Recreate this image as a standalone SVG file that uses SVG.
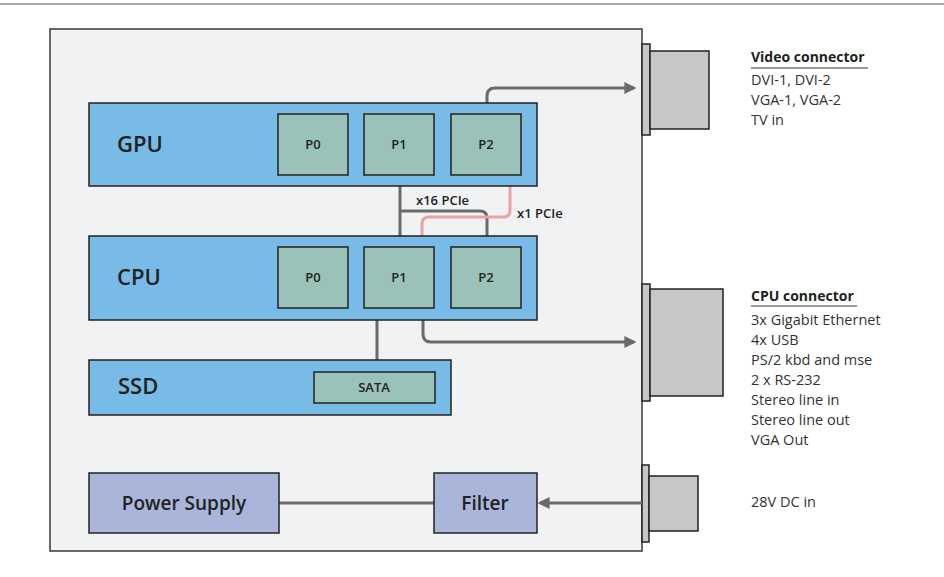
<svg xmlns="http://www.w3.org/2000/svg" width="944" height="577" viewBox="0 0 944 577">
<defs>
<style>
.frame{fill:#f1f2f4;stroke:#3a3a3a;stroke-width:1.5}
.blue{fill:#77bbe6;stroke:#222;stroke-width:1.5}
.port{fill:#9bc2b8;stroke:#222;stroke-width:1.5}
.pwr{fill:#a9b6da;stroke:#222;stroke-width:1.5}
.conn{fill:#c6c7c9;stroke:#222;stroke-width:1.5}
.big{font-family:"Open Sans","Noto Sans",sans-serif;font-size:22px;font-weight:600;fill:#222}
.mid{font-family:"Open Sans","Noto Sans",sans-serif;font-size:19px;font-weight:600;fill:#222}
.small{font-family:"Open Sans","Noto Sans",sans-serif;font-size:13px;font-weight:600;fill:#222;text-anchor:middle}
.lbl{font-family:"Open Sans","Noto Sans",sans-serif;font-size:13px;font-weight:600;fill:#222}
.hd{font-family:"Open Sans","Noto Sans",sans-serif;font-size:14px;font-weight:700;fill:#222}
.txt{font-family:"Open Sans","Noto Sans",sans-serif;font-size:14.5px;fill:#333}
.wire{fill:none;stroke:#6a6a6a;stroke-width:3}
.pink{fill:none;stroke:#e8a3a3;stroke-width:3}
</style>
<marker id="ah" viewBox="0 0 10 10" refX="8" refY="5" markerWidth="4" markerHeight="4" orient="auto-start-reverse">
<path d="M0,0 L10,5 L0,10 z" fill="#6a6a6a"/>
</marker>
</defs>
<rect width="944" height="577" fill="#ffffff"/>
<line x1="0" y1="4" x2="944" y2="4" stroke="#555" stroke-width="1.2"/>
<g id="frame"><rect class="frame" x="50" y="29" width="592" height="522"/></g>

<g id="video-connector">
<rect class="conn" x="642" y="44" width="8" height="91"/>
<rect class="conn" x="650" y="51" width="59" height="78"/>
</g>
<g id="cpu-connector">
<rect class="conn" x="642" y="284" width="8" height="117"/>
<rect class="conn" x="650" y="289" width="73" height="107"/>
</g>
<g id="power-connector">
<rect class="conn" x="642" y="465" width="7" height="77"/>
<rect class="conn" x="649" y="476" width="49" height="55"/>
</g>

<g id="connectors">
<path class="wire" d="M400,175 V247"/>
<path class="wire" d="M400,211 H480 Q487,211 487,218 V247"/>
<path class="pink" d="M510,175 V210 Q510,217 503,217 H429 Q422,217 422,224 V247"/>
<path class="wire" d="M487,114 V96 Q487,88 495,88 H634" marker-end="url(#ah)"/>
<path class="wire" d="M423,308 V334 Q423,342 431,342 H634" marker-end="url(#ah)"/>
<path class="wire" d="M377,308 V372"/>
<path class="wire" d="M279,503 H434"/>
<path class="wire" d="M642,503 H540" marker-end="url(#ah)"/>
</g>

<g id="gpu">
<rect class="blue" x="89" y="103" width="448" height="83"/>
<text class="big" x="117" y="152">GPU</text>
</g>
<g id="gpu-p0"><rect class="port" x="278" y="114" width="70" height="61"/><text class="small" x="313" y="149">P0</text></g>
<g id="gpu-p1"><rect class="port" x="364" y="114" width="70" height="61"/><text class="small" x="399" y="149">P1</text></g>
<g id="gpu-p2"><rect class="port" x="451" y="114" width="70" height="61"/><text class="small" x="486" y="149">P2</text></g>

<g id="cpu">
<rect class="blue" x="89" y="236" width="448" height="84"/>
<text class="big" x="117" y="285">CPU</text>
</g>
<g id="cpu-p0"><rect class="port" x="278" y="247" width="70" height="61"/><text class="small" x="313" y="282">P0</text></g>
<g id="cpu-p1"><rect class="port" x="364" y="247" width="70" height="61"/><text class="small" x="399" y="282">P1</text></g>
<g id="cpu-p2"><rect class="port" x="451" y="247" width="70" height="61"/><text class="small" x="486" y="282">P2</text></g>

<text class="lbl" x="416" y="205">x16 PCIe</text>
<text class="lbl" x="517" y="218">x1 PCIe</text>

<g id="ssd">
<rect class="blue" x="89" y="360" width="362" height="55"/>
<text class="big" x="118" y="394">SSD</text>
</g>
<g id="sata"><rect class="port" x="314" y="372" width="121" height="31"/><text class="small" x="374" y="392">SATA</text></g>

<g id="power-supply">
<rect class="pwr" x="89" y="473" width="190" height="60"/>
<text class="mid" x="184" y="510" text-anchor="middle">Power Supply</text>
</g>
<g id="filter">
<rect class="pwr" x="434" y="473" width="103" height="60"/>
<text class="mid" x="485" y="510" text-anchor="middle">Filter</text>
</g>

<g id="video-label">
<text class="hd" x="751" y="62">Video connector</text>
<line x1="751" y1="68" x2="868" y2="68" stroke="#333" stroke-width="1"/>
<text class="txt" x="751" y="85">DVI-1, DVI-2</text>
<text class="txt" x="751" y="105">VGA-1, VGA-2</text>
<text class="txt" x="751" y="125">TV in</text>
</g>
<g id="cpu-label">
<text class="hd" x="751" y="301">CPU connector</text>
<line x1="751" y1="306" x2="857" y2="306" stroke="#333" stroke-width="1"/>
<text class="txt" x="751" y="325">3x Gigabit Ethernet</text>
<text class="txt" x="751" y="345">4x USB</text>
<text class="txt" x="751" y="365">PS/2 kbd and mse</text>
<text class="txt" x="751" y="385">2 x RS-232</text>
<text class="txt" x="751" y="405">Stereo line in</text>
<text class="txt" x="751" y="425">Stereo line out</text>
<text class="txt" x="751" y="445">VGA Out</text>
</g>
<g id="dc-label"><text class="txt" x="751" y="507">28V DC in</text></g>
</svg>
